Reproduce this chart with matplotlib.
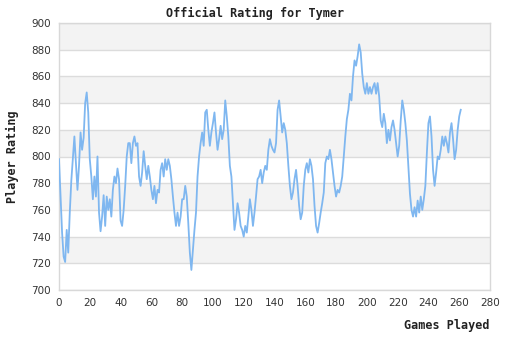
import numpy as np
import matplotlib
matplotlib.use("Agg")
import matplotlib.pyplot as plt

# rating after each game
ratings = [
    798, 771, 743, 725, 721, 745, 728, 758, 782, 799,
    815, 795, 775, 793, 818, 805, 814, 840, 848, 833,
    798, 785, 768, 785, 770, 800, 758, 744, 755, 771,
    748, 770, 760, 768, 755, 775, 785, 780, 791, 783,
    752, 748, 760, 778, 800, 810,
    810, 795, 810, 815, 808, 810, 785, 778, 788, 804,
    793, 783, 793, 785, 775, 768, 778, 765, 775, 773,
    790, 795, 785, 798, 790, 798, 793, 783, 770, 758,
    748, 758, 748, 755, 768, 768, 778, 770, 750, 728,
    715, 730, 745, 758, 785, 800, 810, 818,
    808, 833, 835, 820, 808, 818, 825, 833, 818, 805,
    813, 823, 813, 820, 842, 830, 815, 793, 785, 765,
    745, 753, 765, 758, 748, 745, 740, 748, 743, 755,
    768, 760, 748, 758, 770, 783, 785, 790, 780, 788,
    793, 790, 805, 813, 808, 805,
    803, 810, 835, 842, 830, 818, 825, 820, 810, 793,
    778, 768, 773, 783, 790, 778, 763, 753, 758, 778,
    790, 795, 788, 798, 793, 783, 763, 748, 743, 750,
    758, 765, 773, 795, 800, 798, 805, 798, 788, 778,
    770, 775, 773, 778, 785, 800, 815, 828,
    835, 847, 842, 860, 872, 868, 875, 884, 878, 862,
    852, 847, 855, 847, 852, 847, 852, 855, 847, 855,
    845, 827, 822, 832, 825, 810, 820, 812, 822, 827,
    820, 810, 800, 808, 827, 842, 835, 825, 812, 792,
    772, 760, 755, 762, 755, 767,
    758, 770, 760, 768, 778, 803, 825, 830, 815, 790,
    778, 788, 800, 798, 805, 815, 808, 815, 810, 803,
    818, 825, 813, 798, 805, 820, 830, 835,
]
games = np.arange(len(ratings))

y_ticks = list(range(700, 901, 20))
x_ticks = list(range(0, 281, 20))

fig = plt.figure(figsize=(5.1, 3.4), dpi=100)
ax = fig.add_axes([59 / 510, 1 - 290 / 340, 431 / 510, 267 / 340])

# alternating horizontal bands
for i, lo in enumerate(y_ticks[:-1]):
    if (900 - lo) // 20 % 2 == 1:
        ax.axhspan(lo, lo + 20, color="#f3f3f3", zorder=0, lw=0)
for y in y_ticks:
    ax.axhline(y, color="#dcdcdc", lw=1, zorder=1)

ax.plot(games, ratings, color="#7fb7f0", lw=1.3, zorder=3)

ax.set_xlim(0, 280)
ax.set_ylim(700, 900)
ax.set_xticks(x_ticks)
ax.set_yticks(y_ticks)
ax.tick_params(length=0, labelsize=7.5, colors="#333333", pad=6)
for s in ax.spines.values():
    s.set_color("#d8d8d8")
    s.set_linewidth(1)

mono = "DejaVu Sans Mono"
fig.text(0.5, 1 - 13 / 340, "Official Rating for Tymer", ha="center", va="center",
         family=mono, weight="bold", fontsize=8.5, color="#222222")
fig.text(490 / 510, 1 - 326 / 340, "Games Played", ha="right", va="center",
         family=mono, weight="bold", fontsize=8.5, color="#222222")
fig.text(12 / 510, 1 - 157 / 340, "Player Rating", ha="center", va="center",
         rotation=90, family=mono, weight="bold", fontsize=8.5, color="#222222")

fig.savefig("out.png", dpi=100)
